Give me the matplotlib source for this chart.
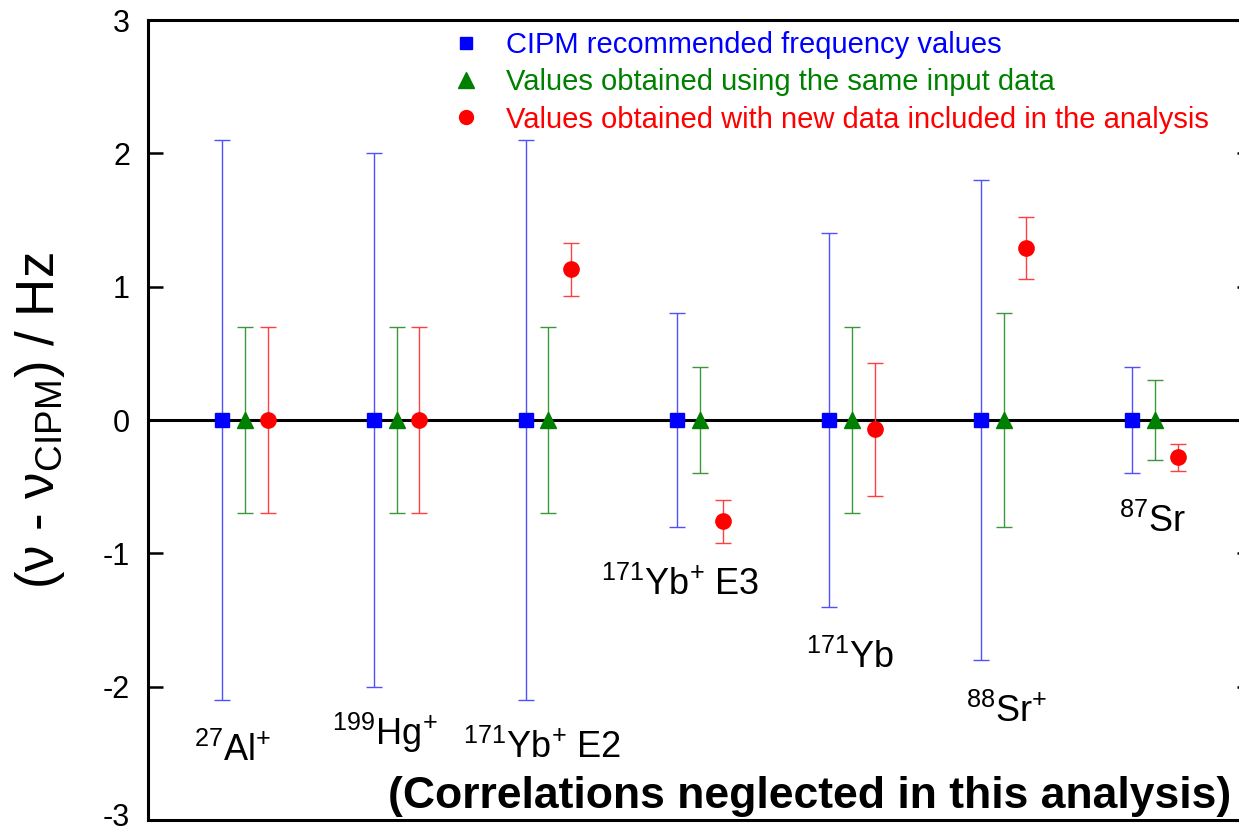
import matplotlib
matplotlib.use("Agg")
import matplotlib.pyplot as plt
import matplotlib.transforms as mtransforms
from matplotlib.lines import Line2D

plt.rcParams['font.family'] = ['Liberation Sans', 'DejaVu Sans']
plt.rcParams['mathtext.fontset'] = 'custom'
plt.rcParams['mathtext.rm'] = 'Liberation Sans'
plt.rcParams['mathtext.it'] = 'Liberation Sans:italic'
plt.rcParams['mathtext.bf'] = 'Liberation Sans:bold'

# ---- data ----
species = [r"$^{27}$Al$^{+}$", r"$^{199}$Hg$^{+}$", r"$^{171}$Yb$^{+}$ E2",
           r"$^{171}$Yb$^{+}$ E3", r"$^{171}$Yb", r"$^{88}$Sr$^{+}$", r"$^{87}$Sr"]
groups = [1, 2, 3, 4, 5, 6, 7]

cipm_val = [0, 0, 0, 0, 0, 0, 0]
cipm_err = [2.1, 2.0, 2.1, 0.8, 1.4, 1.8, 0.4]

same_val = [0, 0, 0, 0, 0, 0, 0]
same_err = [0.7, 0.7, 0.7, 0.4, 0.7, 0.8, 0.3]

new_val = [0, 0, 1.13, -0.76, -0.07, 1.29, -0.28]
new_err = [0.7, 0.7, 0.2, 0.16, 0.5, 0.23, 0.1]

label_x = [0.92, 1.92, 2.96, 3.87, 4.99, 6.02, 6.98]
label_y = [-2.56, -2.44, -2.535, -1.31, -1.86, -2.265, -0.84]

legend_labels = ["CIPM recommended frequency values",
                 "Values obtained using the same input data",
                 "Values obtained with new data included in the analysis"]
yticks = [-3, -2, -1, 0, 1, 2, 3]

# ---- figure ----
fig = plt.figure(figsize=(12.39, 8.32), dpi=100)
ax = fig.add_axes([148/1239, 1-820/832, (1252-148)/1239, (820-20)/832])
ax.set_xlim(0.3606, 7.638)
ax.set_ylim(-3, 3)

ax.axhline(0, color='black', lw=2.2, zorder=1.5)

off = 0.15
blue, green, red = '#0000ff', '#008000', '#ff0000'
series = [
    ([g - off for g in groups], cipm_val, cipm_err, blue, 's', 9.5, '#5050ff'),
    (groups, same_val, same_err, green, '^', 12, '#3c963c'),
    ([g + off for g in groups], new_val, new_err, red, 'o', 11, '#ff4040'),
]
for xs, ys, es, c, m, ms, ec in series:
    ax.errorbar(xs, ys, yerr=es, fmt='none', ecolor=ec, elinewidth=1.0,
                capsize=6, capthick=1.0, zorder=2)
    ax.plot(xs, ys, linestyle='none', marker=m, markersize=ms, color=c,
            markeredgecolor=c, zorder=3)

for t, x, y in zip(species, label_x, label_y):
    ax.text(x, y, t, fontsize=26, ha='center', va='baseline', color='black')

ax.set_xticks([])
ax.set_yticks(yticks)
ax.set_yticklabels([str(v) for v in yticks])
ax.tick_params(axis='y', direction='in', length=11, width=1.8, labelsize=22,
               pad=13, right=True)
for s in ax.spines.values():
    s.set_linewidth(2.2)

# nudge the lowest tick label up slightly so it stays inside the canvas
lowest = ax.get_yticklabels()[0]
lowest.set_transform(lowest.get_transform() +
                     mtransforms.ScaledTranslation(0, 4/72, fig.dpi_scale_trans))

fig.text(40/1239, 1-421/832, "(ν - ν$_{\\mathrm{CIPM}}$) / Hz", rotation=90,
         fontsize=38, ha='center', va='center')

fig.text(388/1239, 1-808/832, "(Correlations neglected in this analysis)",
         fontsize=32, fontweight='bold', ha='left', va='baseline')

handles = [Line2D([], [], linestyle='none', marker='s', markersize=9, color=blue),
           Line2D([], [], linestyle='none', marker='^', markersize=11, color=green),
           Line2D([], [], linestyle='none', marker='o', markersize=10, color=red)]
ax.legend(handles, legend_labels, loc='upper left',
          bbox_to_anchor=(448/1239, 1-31/832), bbox_transform=fig.transFigure,
          frameon=False, fontsize=21, labelcolor=[blue, green, red],
          handlelength=1.2, handletextpad=0.8, labelspacing=0.32,
          borderpad=0, borderaxespad=0)

fig.savefig("out.png", dpi=100)
